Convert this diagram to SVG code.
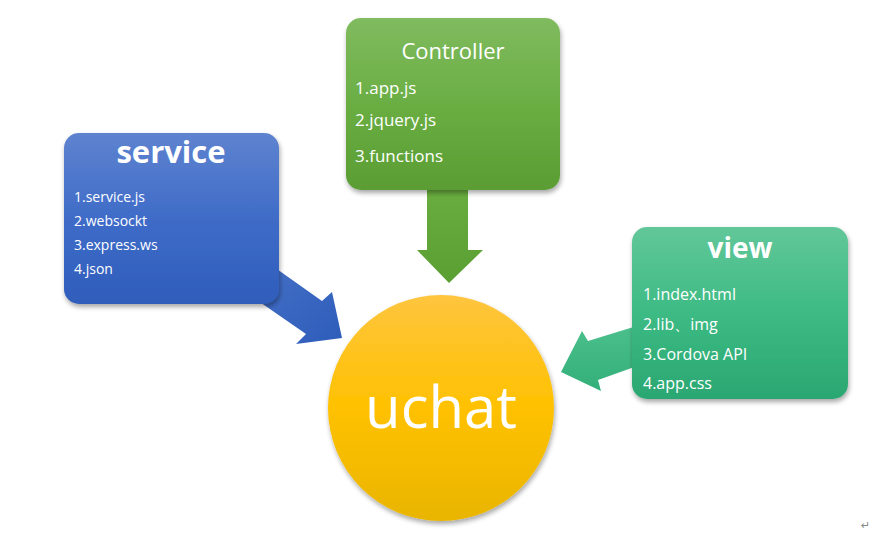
<svg xmlns="http://www.w3.org/2000/svg" width="895" height="537" viewBox="0 0 895 537">
<style>
text{font-family:"Open Sans","Noto Sans","Liberation Sans",sans-serif;fill:#fff}
.t{font-weight:bold;text-anchor:middle}
.i{font-size:14px}
.c{font-size:17px}
.v{font-size:16px}
</style>
<defs>
<linearGradient id="gB" x1="0" y1="0" x2="0" y2="1"><stop offset="0" stop-color="#5e83cf"/><stop offset="0.5" stop-color="#3f6cc8"/><stop offset="1" stop-color="#2f5dbb"/></linearGradient>
<linearGradient id="gG" x1="0" y1="0" x2="0" y2="1"><stop offset="0" stop-color="#80bb5f"/><stop offset="0.5" stop-color="#6aae43"/><stop offset="1" stop-color="#5a9d33"/></linearGradient>
<linearGradient id="gT" x1="0" y1="0" x2="0" y2="1"><stop offset="0" stop-color="#62c79a"/><stop offset="0.5" stop-color="#3dbb84"/><stop offset="1" stop-color="#2ba772"/></linearGradient>
<linearGradient id="gY" x1="0" y1="0" x2="0" y2="1"><stop offset="0" stop-color="#fec53f"/><stop offset="0.5" stop-color="#ffc100"/><stop offset="1" stop-color="#e9b500"/></linearGradient>
<linearGradient id="gAB" x1="0" y1="0" x2="1" y2="1"><stop offset="0" stop-color="#4a74c8"/><stop offset="1" stop-color="#2d5cba"/></linearGradient>
<linearGradient id="gAG" x1="0" y1="0" x2="0" y2="1"><stop offset="0" stop-color="#6aad40"/><stop offset="1" stop-color="#5a9f32"/></linearGradient>
<linearGradient id="gAT" x1="0" y1="0" x2="0" y2="1"><stop offset="0" stop-color="#4cc08d"/><stop offset="1" stop-color="#33af79"/></linearGradient>
<filter id="sh" x="-10%" y="-10%" width="125%" height="125%"><feGaussianBlur in="SourceAlpha" stdDeviation="2.5"/><feOffset dx="1" dy="3"/><feComponentTransfer><feFuncA type="linear" slope="0.35"/></feComponentTransfer><feMerge><feMergeNode/><feMergeNode in="SourceGraphic"/></feMerge></filter>
</defs>
<g id="connectors">
<polygon points="250,250 322,301 332,292 342,338 296,344 306,334 235,285" fill="url(#gAB)"/>
<polygon points="427,185 468,185 468,250 483,250 449,283 417,250 427,250" fill="url(#gAG)"/>
<polygon points="640,325 588,341 582,331 561,372 601,391 598,380 640,365" fill="url(#gAT)"/>
</g>
<g id="service">
<rect x="64" y="133" width="215" height="171" rx="15" fill="url(#gB)" filter="url(#sh)"/>
<text class="t" x="171" y="163" font-size="31">service</text>
<text class="i" x="74" y="202">1.service.js</text>
<text class="i" x="74" y="226">2.websockt</text>
<text class="i" x="74" y="250">3.express.ws</text>
<text class="i" x="74" y="274">4.json</text>
</g>
<g id="controller">
<rect x="346" y="18" width="214" height="172" rx="15" fill="url(#gG)" filter="url(#sh)"/>
<text x="453" y="59" font-size="22" text-anchor="middle">Controller</text>
<text class="c" x="355" y="94">1.app.js</text>
<text class="c" x="355" y="126">2.jquery.js</text>
<text class="c" x="355" y="162">3.functions</text>
</g>
<g id="view">
<rect x="632" y="227" width="216" height="172" rx="15" fill="url(#gT)" filter="url(#sh)"/>
<text class="t" x="740" y="258" font-size="28">view</text>
<text class="v" x="643" y="300">1.index.html</text>
<text class="v" x="643" y="330">2.lib、img</text>
<text class="v" x="643" y="360">3.Cordova API</text>
<text class="v" x="643" y="389">4.app.css</text>
</g>
<g id="uchat">
<circle cx="441" cy="408" r="113" fill="url(#gY)" filter="url(#sh)"/>
<text x="441" y="428" font-size="58" text-anchor="middle">uchat</text>
</g>
<text x="861" y="529" font-size="11" style="fill:#888;font-family:'DejaVu Sans',sans-serif">↵</text>
</svg>
